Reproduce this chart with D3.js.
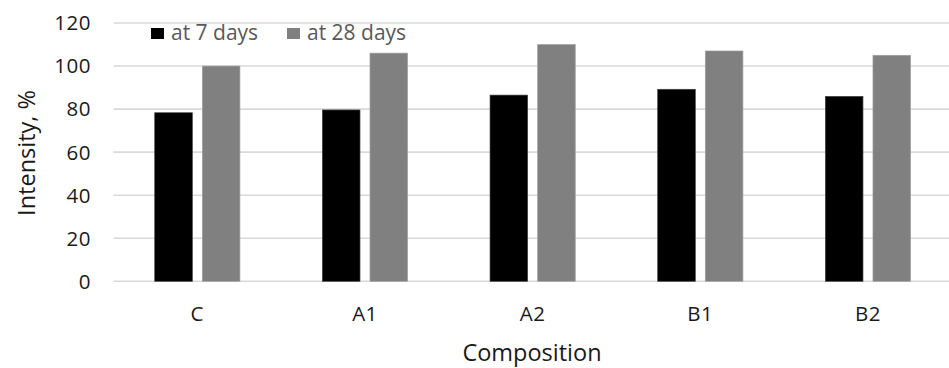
<!DOCTYPE html>
<html>
<head>
<meta charset="utf-8">
<script src="https://cdn.jsdelivr.net/npm/d3@7"></script>
<style>
  body { margin: 0; background: #fff; }
  svg text { font-family: "Open Sans", sans-serif; }
</style>
</head>
<body>
<svg id="chart"></svg>
<script>
const categories = ['C', 'A1', 'A2', 'B1', 'B2'];
const seriesNames = ['at 7 days', 'at 28 days'];
const day7 = [78.3, 79.6, 86.5, 89.2, 85.9];
const day28 = [100, 106, 110, 107, 105];
const yTicks = [0, 20, 40, 60, 80, 100, 120];
const colors = ['#000000', '#808080'];

const size = {w: 949, h: 368};
const plot = {l: 113.5, r: 951.8, t: 23, b: 281.3};

const svg = d3.select('svg#chart')
    .attr('width', size.w)
    .attr('height', size.h);

const x = d3.scaleBand()
    .domain(categories)
    .range([plot.l, plot.r]);

const y = d3.scaleLinear()
    .domain([0, 120])
    .range([plot.b, plot.t]);

const barW = 37.6, barGap = 10;

// gridlines
svg.append('g')
    .selectAll('line')
    .data(yTicks)
    .join('line')
    .attr('x1', plot.l)
    .attr('x2', plot.r)
    .attr('y1', d => y(d))
    .attr('y2', d => y(d))
    .attr('stroke', '#d9d9d9')
    .attr('stroke-width', 1.6);

// y tick labels
svg.append('g')
    .selectAll('text')
    .data(yTicks)
    .join('text')
    .attr('x', 91)
    .attr('y', d => y(d))
    .attr('dy', '0.36em')
    .attr('text-anchor', 'end')
    .attr('font-size', 20.5)
    .attr('letter-spacing', 0.5)
    .attr('fill', '#1a1a1a')
    .text(d => d);

// bars
const series = [day7, day28];
series.forEach((vals, i) => {
    svg.append('g')
        .selectAll('rect')
        .data(categories)
        .join('rect')
        .attr('x', d => x(d) + x.bandwidth() / 2 - barW - barGap / 2 + i * (barW + barGap))
        .attr('y', (d, j) => y(vals[j]))
        .attr('width', barW)
        .attr('height', (d, j) => y(0) - y(vals[j]))
        .attr('fill', colors[i])
        .attr('stroke', i === 0 ? '#404040' : '#a0a0a0')
        .attr('stroke-width', 0.7);
});

// x tick labels
svg.append('g')
    .selectAll('text')
    .data(categories)
    .join('text')
    .attr('x', d => x(d) + x.bandwidth() / 2)
    .attr('y', 321)
    .attr('text-anchor', 'middle')
    .attr('font-size', 20.5)
    .attr('letter-spacing', 0.5)
    .attr('fill', '#1a1a1a')
    .text(d => d);

// axis titles
svg.append('text')
    .attr('x', 532)
    .attr('y', 361)
    .attr('text-anchor', 'middle')
    .attr('font-size', 23.5)
    .attr('fill', '#1a1a1a')
    .text('Composition');

svg.append('text')
    .attr('transform', 'translate(35, 153) rotate(-90)')
    .attr('text-anchor', 'middle')
    .attr('font-size', 23.5)
    .attr('fill', '#1a1a1a')
    .text('Intensity, %');

// legend
const legendX = [151, 287];
const legend = svg.append('g')
    .selectAll('g')
    .data(seriesNames)
    .join('g')
    .attr('transform', (d, i) => `translate(${legendX[i]}, 28)`);

legend.append('rect')
    .attr('width', 13)
    .attr('height', 11)
    .attr('fill', (d, i) => colors[i]);

legend.append('text')
    .attr('x', 20)
    .attr('y', 12)
    .attr('font-size', 21)
    .attr('fill', '#595959')
    .text(d => d);
</script>
</body>
</html>
